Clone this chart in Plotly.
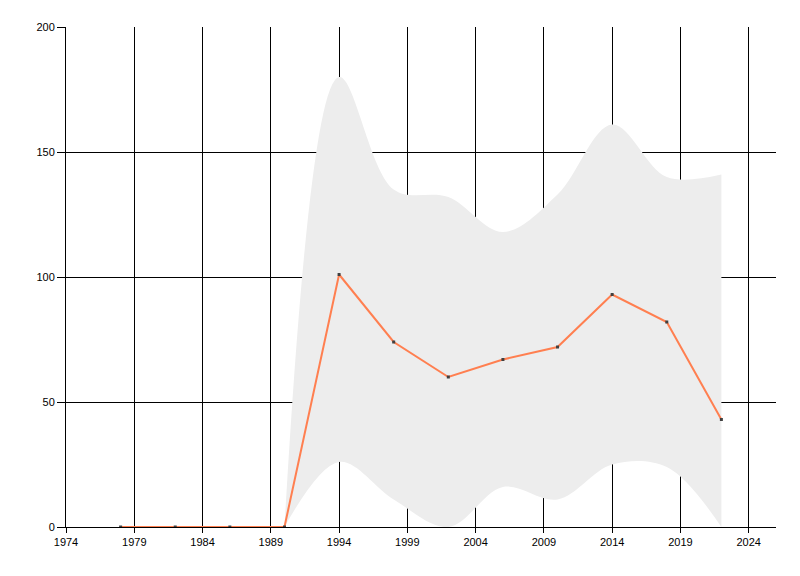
import plotly.graph_objects as go

years = [1978, 1982, 1986, 1990, 1994, 1998, 2002, 2006, 2010, 2014, 2018, 2022]
values = [0, 0, 0, 0, 101, 74, 60, 67, 72, 93, 82, 43]

band_years = [1990, 1994, 1998, 2002, 2006, 2010, 2014, 2018, 2022]
band_upper = [0, 180, 135, 132, 118, 133, 161, 140, 141]
band_lower = [0, 26, 11, 0, 16, 11, 25, 24, 0]

x_ticks = [1974, 1979, 1984, 1989, 1994, 1999, 2004, 2009, 2014, 2019, 2024]
y_ticks = [0, 50, 100, 150, 200]

fig = go.Figure()

fig.add_trace(go.Scatter(
    x=band_years, y=band_lower, mode="lines",
    line=dict(width=0, color="#EDEDED", shape="spline", smoothing=1),
    hoverinfo="skip", showlegend=False,
))
fig.add_trace(go.Scatter(
    x=band_years, y=band_upper, mode="lines",
    line=dict(width=0, color="#EDEDED", shape="spline", smoothing=1),
    fill="tonexty", fillcolor="#EDEDED",
    hoverinfo="skip", showlegend=False,
))
fig.add_trace(go.Scatter(
    x=years, y=values, mode="lines+markers",
    line=dict(color="#FF7F50", width=2),
    marker=dict(symbol="square", size=3, color="#404040"),
    showlegend=False,
))

axis_font = dict(family="Liberation Sans, Arial, sans-serif", size=11, color="#000000")

fig.update_layout(
    width=800, height=576,
    margin=dict(l=58, r=32, t=19, b=57),
    paper_bgcolor="white", plot_bgcolor="white",
    showlegend=False,
    xaxis=dict(
        range=[1974, 2026], tickvals=x_ticks, ticktext=[str(v) for v in x_ticks],
        showgrid=True, gridcolor="#000000", gridwidth=1,
        showline=True, linecolor="#000000", linewidth=1,
        ticks="outside", ticklen=5, tickcolor="#000000",
        tickfont=axis_font, zeroline=False, automargin=False,
    ),
    yaxis=dict(
        range=[0, 200], tickvals=y_ticks, ticktext=[str(v) for v in y_ticks],
        showgrid=True, gridcolor="#000000", gridwidth=1,
        showline=True, linecolor="#000000", linewidth=1,
        ticks="outside", ticklen=8, tickcolor="#000000",
        tickfont=axis_font, zeroline=False, automargin=False,
    ),
)

fig.write_html("out.html")
